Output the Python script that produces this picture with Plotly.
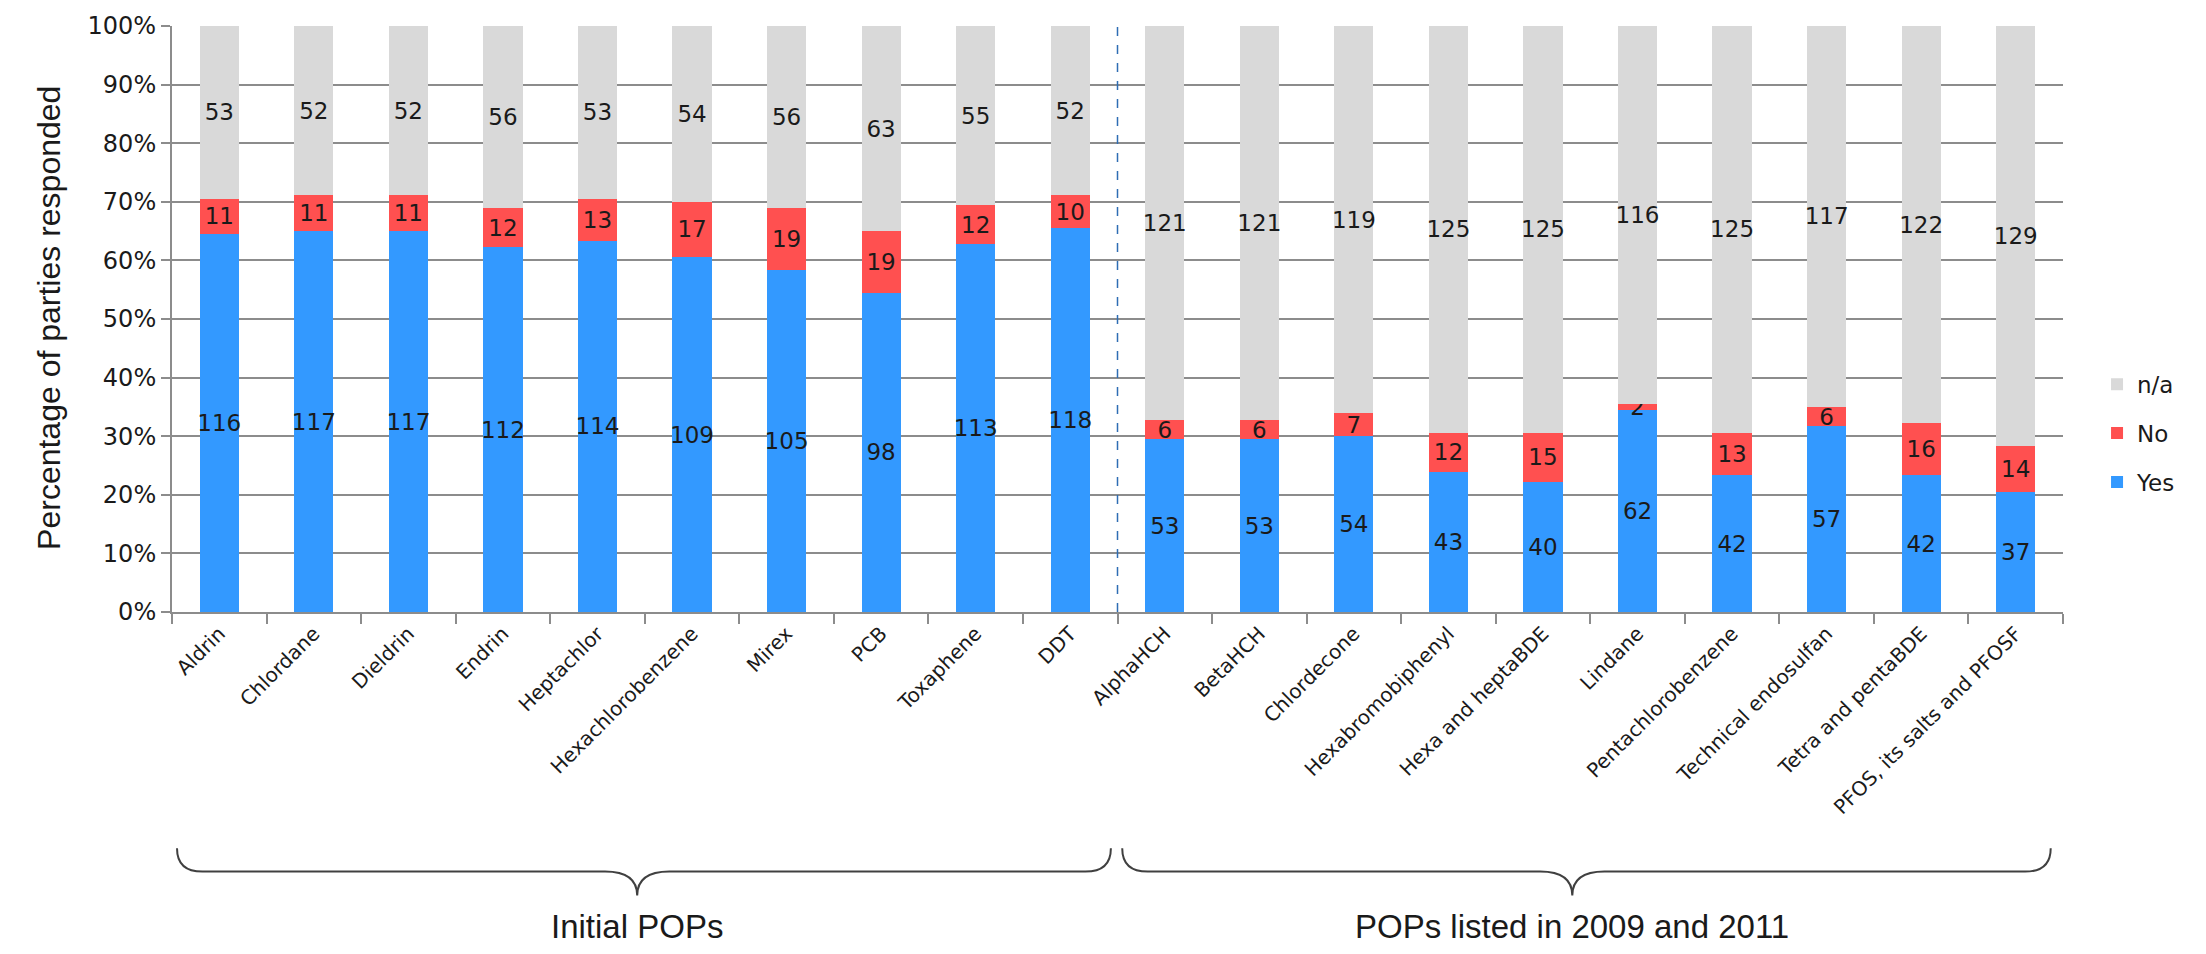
import plotly.graph_objects as go

categories = ["Aldrin", "Chlordane", "Dieldrin", "Endrin", "Heptachlor", "Hexachlorobenzene",
              "Mirex", "PCB", "Toxaphene", "DDT", "AlphaHCH", "BetaHCH", "Chlordecone",
              "Hexabromobiphenyl", "Hexa and heptaBDE", "Lindane", "Pentachlorobenzene",
              "Technical endosulfan", "Tetra and pentaBDE", "PFOS, its salts and PFOSF"]
yes_counts = [116, 117, 117, 112, 114, 109, 105, 98, 113, 118, 53, 53, 54, 43, 40, 62, 42, 57, 42, 37]
no_counts = [11, 11, 11, 12, 13, 17, 19, 19, 12, 10, 6, 6, 7, 12, 15, 2, 13, 6, 16, 14]
na_counts = [53, 52, 52, 56, 53, 54, 56, 63, 55, 52, 121, 121, 119, 125, 125, 116, 125, 117, 122, 129]
group_labels = ["Initial POPs", "POPs listed in 2009 and 2011"]
y_ticks = [0, 10, 20, 30, 40, 50, 60, 70, 80, 90, 100]

FONT = "DejaVu Sans"
TITLE_FONT = "Liberation Sans"

fig = go.Figure()
series = [("Yes", yes_counts, "#3399FF", 3), ("No", no_counts, "#FF5050", 2), ("n/a", na_counts, "#D9D9D9", 1)]
for name, vals, col, rank in series:
    fig.add_trace(go.Bar(
        x=categories, y=vals, name=name, marker=dict(color=col, line=dict(width=0)),
        text=[str(v) for v in vals], textposition="inside", insidetextanchor="middle",
        textangle=0, constraintext="none",
        textfont=dict(family=FONT, size=23, color="#1a1a1a"),
        legendgroup=name, legendrank=rank, hoverinfo="skip"))

fig.update_layout(
    width=2206, height=954, autosize=False,
    barmode="stack", barnorm="percent", bargap=0.585,
    plot_bgcolor="white", paper_bgcolor="white",
    margin=dict(l=172, r=143, t=13, b=342),
    showlegend=True,
    legend=dict(x=1.018, xanchor="left", y=0.305, yanchor="middle",
                traceorder="grouped", tracegroupgap=16,
                font=dict(family=FONT, size=23, color="#1a1a1a"),
                bgcolor="rgba(0,0,0,0)"),
    font=dict(family=FONT, color="#1a1a1a"),
)

fig.update_xaxes(
    type="category", range=[-0.5, len(categories) - 0.5],
    tickangle=-45, tickfont=dict(family=FONT, size=20, color="#1a1a1a"),
    ticks="outside", tickson="boundaries", ticklen=10, tickwidth=2, tickcolor="#8c8c8c",
    showline=True, linecolor="#8c8c8c", linewidth=2, showgrid=False, zeroline=False,
)
fig.update_yaxes(
    range=[0, 100], tickvals=y_ticks, ticktext=[f"{t}%" for t in y_ticks],
    tickfont=dict(family=FONT, size=24, color="#1a1a1a"), ticklabeloverflow="allow",
    ticks="outside", ticklen=9, tickwidth=2, tickcolor="#8c8c8c",
    showline=True, linecolor="#8c8c8c", linewidth=2,
    showgrid=True, gridcolor="#8c8c8c", gridwidth=2, zeroline=False,
)

# y-axis title
fig.add_annotation(text="Percentage of parties responded", textangle=-90,
                   xref="paper", yref="paper", x=-0.065, y=0.502, xanchor="center", yanchor="middle",
                   showarrow=False, font=dict(family=TITLE_FONT, size=32, color="#1a1a1a"))

# dashed separator between groups
fig.add_shape(type="line", xref="x", yref="paper", x0=9.5, x1=9.5, y0=0, y1=1,
              line=dict(color="#2E6DB4", width=1.5, dash="dash"), layer="above")

# braces under the categories
def brace(xa, xb, xc, yt=-0.403, ym=-0.443, yb=-0.484, r_end=0.27, r_tip=0.34):
    return (f"M {xa},{yt} Q {xa},{ym} {xa + r_end},{ym} L {xc - r_tip},{ym} "
            f"Q {xc},{ym} {xc},{yb} Q {xc},{ym} {xc + r_tip},{ym} "
            f"L {xb - r_end},{ym} Q {xb},{ym} {xb},{yt}")

brace_spans = [(-0.447, 9.43, 4.42), (9.55, 19.37, 14.31)]
for (xa, xb, xc), lab in zip(brace_spans, group_labels):
    fig.add_shape(type="path", xref="x", yref="paper", path=brace(xa, xb, xc),
                  line=dict(color="#404040", width=2))
    fig.add_annotation(text=lab, xref="x", yref="paper", x=xc, y=-0.537,
                       xanchor="center", yanchor="middle", showarrow=False,
                       font=dict(family=TITLE_FONT, size=33, color="#1a1a1a"))

fig.write_html("out.html", config={"displayModeBar": False},
               post_script="document.body.style.margin='0';document.body.style.padding='0';")
